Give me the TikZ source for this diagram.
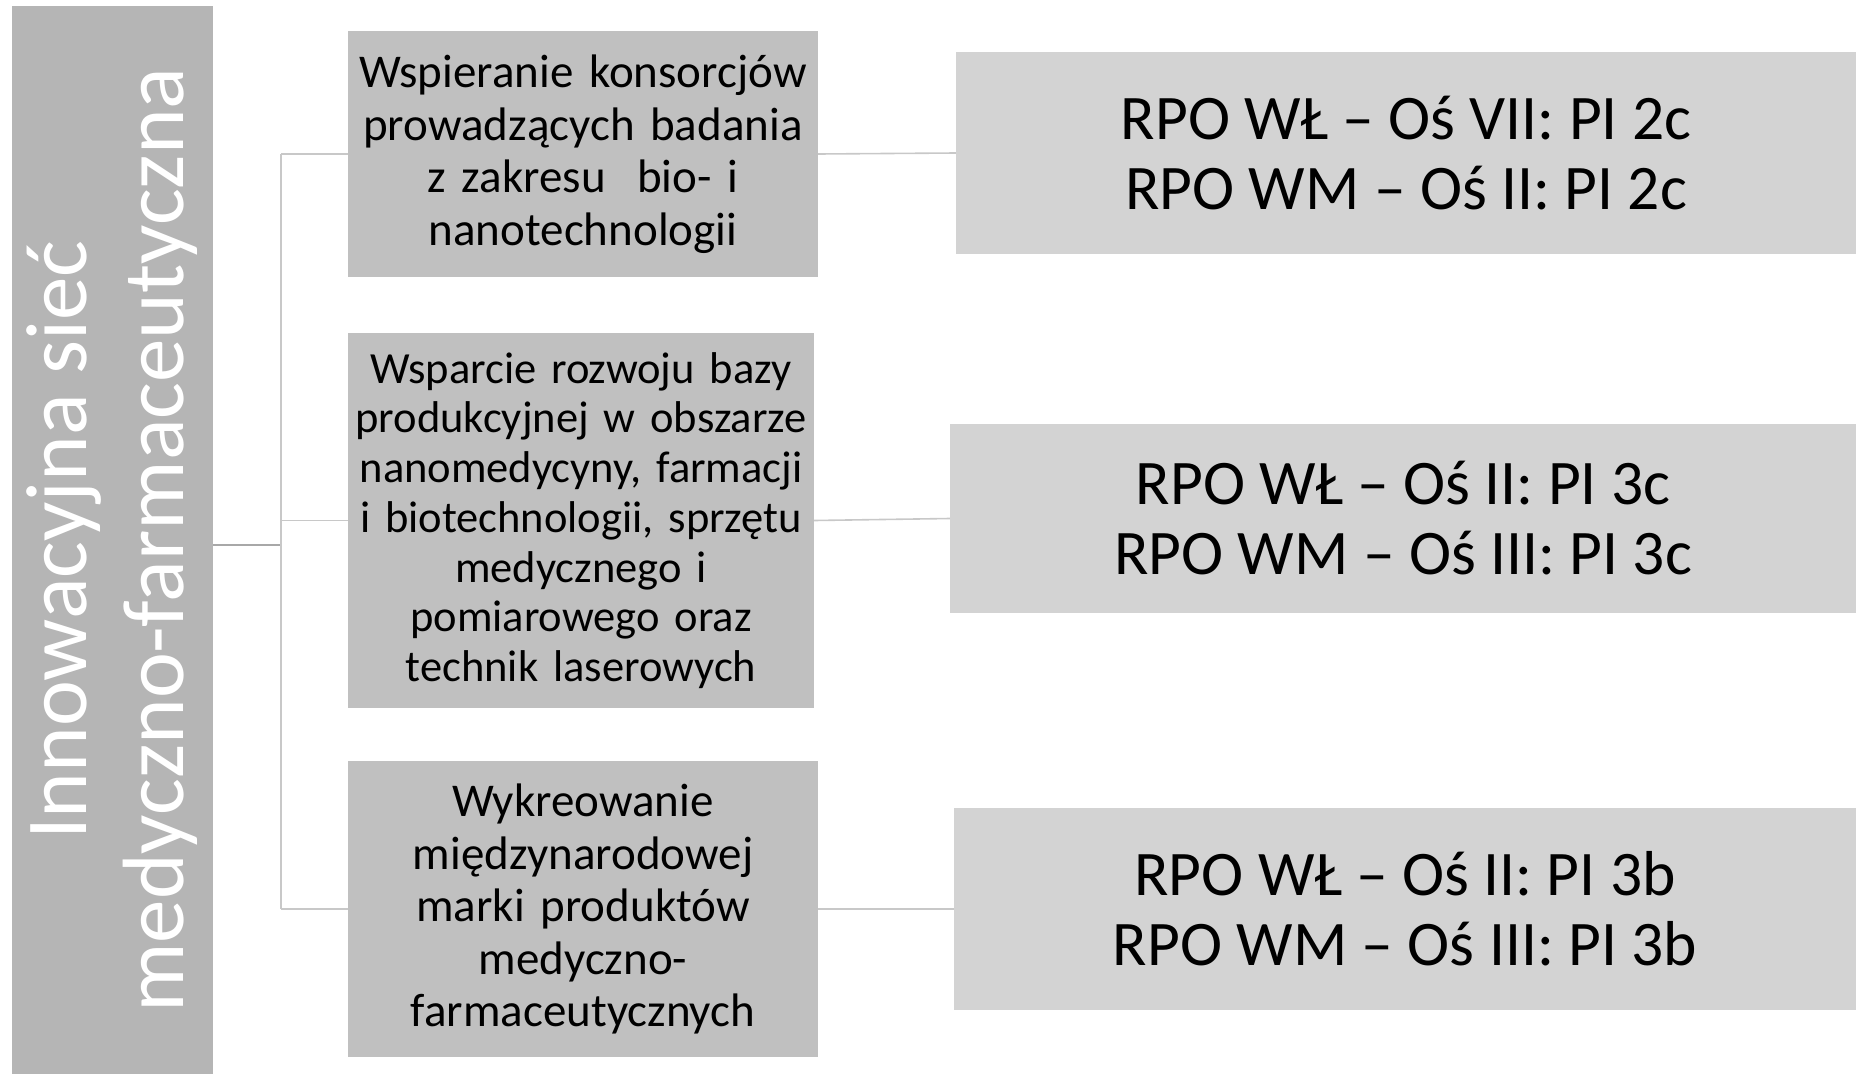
\documentclass[tikz,border=0pt]{standalone}
\usepackage{fontspec}
\setmainfont{Carlito}
\definecolor{barfill}{HTML}{B5B5B5}
\definecolor{midfill}{HTML}{C0C0C0}
\definecolor{rpofill}{HTML}{D3D3D3}
\definecolor{linegray}{HTML}{C8C8C8}
\definecolor{trunkgray}{HTML}{A8A8A8}
\begin{document}
\begin{tikzpicture}[x=1pt,y=-1pt,
    midbox/.style={fill=midfill, inner sep=0pt, align=center, font=\fontsize{47}{52.5}\selectfont},
    rpobox/.style={fill=rpofill, inner sep=0pt, align=center, font=\fontsize{63.5}{70}\selectfont},
    link/.style={draw=linegray, line width=1.6pt}]
    \useasboundingbox (0,0) rectangle (1856,1074);
\node[fill=barfill, inner sep=0pt, minimum width=201pt, minimum height=1068pt] (bar) at (112.5,540) {};
\node[rotate=90, text=white, align=center, font=\fontsize{87}{97}\selectfont] (bartxt) at (bar.center) {Innowacyjna sieć\\medyczno-farmaceutyczna};
\node[midbox, text width=470pt, minimum height=246pt] (m1) at (583,154) {Wspieranie konsorcjów\\prowadzących badania\\z zakresu\ \ bio- i\\nanotechnologii};
\node[midbox, text width=466pt, minimum height=375pt, font=\fontsize{44.5}{49.7}\selectfont] (m2) at (581,520.5) {Wsparcie rozwoju bazy\\produkcyjnej w obszarze\\nanomedycyny, farmacji\\i biotechnologii, sprzętu\\medycznego i\\pomiarowego oraz\\technik laserowych};
\node[midbox, text width=470pt, minimum height=296pt] (m3) at (583,909) {Wykreowanie\\międzynarodowej\\marki produktów\\medyczno-\\farmaceutycznych};
\node[rpobox, minimum width=900pt, minimum height=202pt] (r1) at (1406,153) {RPO WŁ – Oś VII: PI 2c\\RPO WM – Oś II: PI 2c};
\node[rpobox, minimum width=906pt, minimum height=189pt] (r2) at (1403,518.5) {RPO WŁ – Oś II: PI 3c\\RPO WM – Oś III: PI 3c};
\node[rpobox, minimum width=902pt, minimum height=202pt] (r3) at (1405,909) {RPO WŁ – Oś II: PI 3b\\RPO WM – Oś III: PI 3b};
\coordinate (jn) at (281,545);
\draw[draw=trunkgray, line width=2.4pt] (bar.east |- jn)--(jn);
\draw[link, line width=2pt] (jn |- m1.west)--(jn |- m3.west);
\draw[link] (jn |- m1.west)--(m1.west);
\draw[link] (jn |- m2.west)--(m2.west);
\draw[link] (jn |- m3.west)--(m3.west);
\draw[link] (m1.east)--(r1.west);
\draw[link] (m2.east)--(r2.west);
\draw[link] (m3.east)--(r3.west);
\end{tikzpicture}
\end{document}
